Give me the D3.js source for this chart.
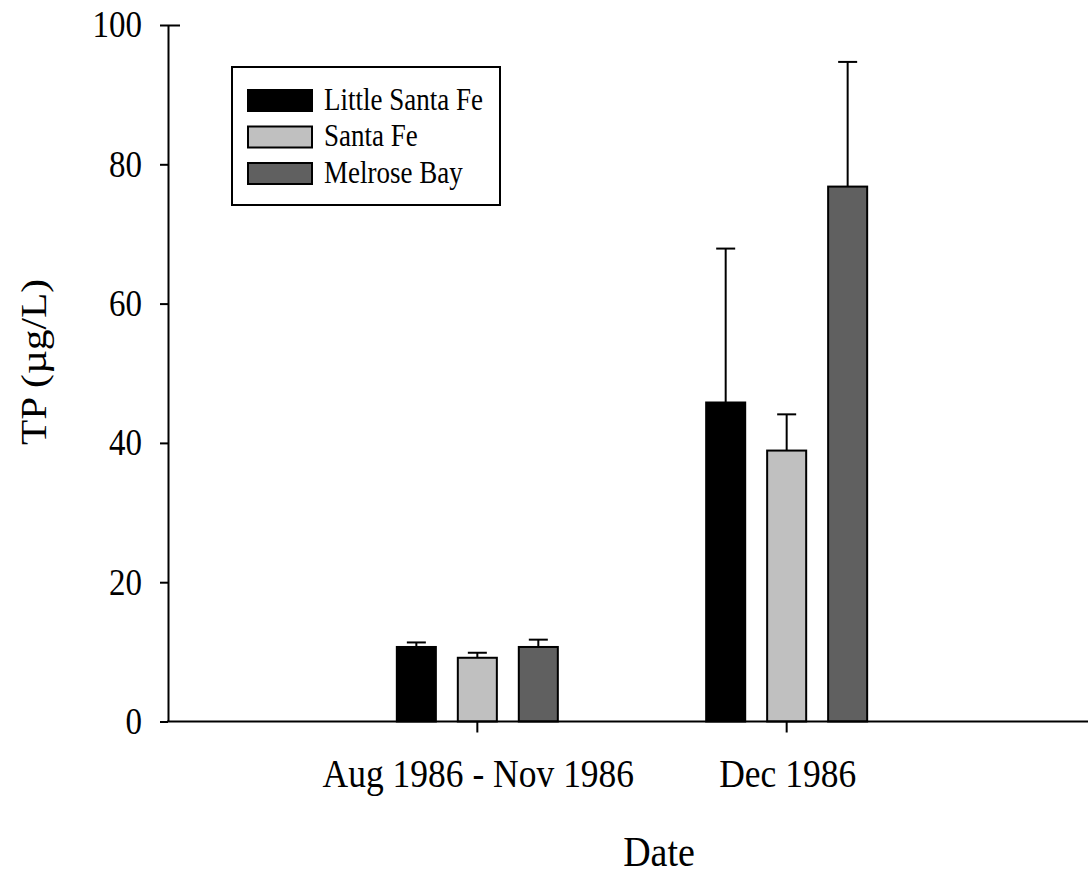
<!DOCTYPE html>
<html>
<head>
<meta charset="utf-8">
<script src="https://cdn.jsdelivr.net/npm/d3@7"></script>
<style>
html,body{margin:0;padding:0;background:#fff;}
svg{display:block;}
text{font-family:"Liberation Serif","Times New Roman",serif;fill:#000;}
</style>
</head>
<body>
<svg id="chart" width="1088" height="878"></svg>
<script>
// ---- data ----
const categories = ["Aug 1986 - Nov 1986", "Dec 1986"];
const seriesNames = ["Little Santa Fe", "Santa Fe", "Melrose Bay"];
const seriesColors = ["#000000", "#c0c0c0", "#606060"];
const littleSantaFe = [10.7, 45.8];
const littleSantaFeErr = [0.65, 22.1];
const santaFe = [9.15, 38.9];
const santaFeErr = [0.72, 5.2];
const melroseBay = [10.7, 76.8];
const melroseBayErr = [1.05, 17.9];
const yTicks = [0, 20, 40, 60, 80, 100];
const xTitle = "Date";
const yTitle = "TP (\u00b5g/L)";

const values = [littleSantaFe, santaFe, melroseBay];
const errors = [littleSantaFeErr, santaFeErr, melroseBayErr];
const table = [];
seriesNames.forEach((s, si) => categories.forEach((c, ci) => {
  table.push({series: s, cat: c, value: values[si][ci], err: errors[si][ci], color: seriesColors[si]});
}));

const svg = d3.select("#chart");
const SY = 1.15; // vertical text stretch

const y = d3.scaleLinear().domain([0, 100]).range([721.5, 25]);
const x0 = d3.scaleBand().domain(categories).range([168, 1096]).paddingInner(0).paddingOuter(0.5);
const x1 = d3.scaleBand().domain(seriesNames).range([-80.5, 80.5]).paddingInner(0.36).paddingOuter(0);

function stretchedText(g, txt, x, yy, size, anchor, rot, sy) {
  const s = sy || SY;
  return g.append("text")
    .attr("transform", `translate(${x},${yy}) scale(1,${s})` + (rot ? ` rotate(${rot})` : ""))
    .attr("text-anchor", anchor)
    .style("font-size", size + "px")
    .text(txt);
}

// bars
const barG = svg.append("g");
barG.selectAll("rect.bar").data(table).join("rect")
  .attr("class", "bar")
  .attr("x", d => x0(d.cat) + x0.bandwidth() / 2 + x1(d.series))
  .attr("width", x1.bandwidth())
  .attr("y", d => y(d.value))
  .attr("height", d => y(0) - y(d.value))
  .attr("fill", d => d.color)
  .attr("stroke", "#000")
  .attr("stroke-width", 2);

// error bars (upper)
const errG = svg.append("g").attr("stroke", "#000").attr("stroke-width", 2);
table.forEach(d => {
  const cx = x0(d.cat) + x0.bandwidth() / 2 + x1(d.series) + x1.bandwidth() / 2;
  errG.append("line").attr("x1", cx).attr("x2", cx).attr("y1", y(d.value)).attr("y2", y(d.value + d.err));
  errG.append("line").attr("x1", cx - 9.5).attr("x2", cx + 9.5).attr("y1", y(d.value + d.err)).attr("y2", y(d.value + d.err));
});

// y axis
const yAxisG = svg.append("g").attr("transform", "translate(168,0)")
  .call(d3.axisLeft(y).tickValues(yTicks).tickSize(8).tickSizeOuter(0).tickFormat(""));
yAxisG.select(".domain").attr("stroke", "#000").attr("stroke-width", 2);
yAxisG.selectAll(".tick line").attr("stroke", "#000").attr("stroke-width", 2);
yAxisG.selectAll(".tick").filter(d => d === 100).select("line").attr("x2", 12).attr("x1", -8);
yTicks.forEach(t => stretchedText(svg, String(t), 142, y(t) + 12.3, 33, "end"));

// x axis
const xAxisG = svg.append("g").attr("transform", `translate(0,${y(0)})`);
xAxisG.append("line").attr("x1", 167).attr("x2", 1088).attr("y1", 0).attr("y2", 0)
  .attr("stroke", "#000").attr("stroke-width", 2);
xAxisG.call(d3.axisBottom(x0).tickSize(11).tickSizeOuter(0).tickFormat(""));
xAxisG.select(".domain").remove();
xAxisG.selectAll(".tick line").attr("stroke", "#000").attr("stroke-width", 2);
categories.forEach(c => stretchedText(svg, c, x0(c) + x0.bandwidth() / 2 + 1, 787, 35.5, "middle"));

// titles
stretchedText(svg, xTitle, 659, 866, 38, "middle", null, 1.1);
stretchedText(svg, yTitle, 46, 362, 36, "middle", -90);

// legend
const lg = svg.append("g");
lg.append("rect").attr("x", 232).attr("y", 67).attr("width", 268).attr("height", 138)
  .attr("fill", "#fff").attr("stroke", "#000").attr("stroke-width", 2);
seriesNames.forEach((s, i) => {
  const ty = 90 + i * 36.5;
  lg.append("rect").attr("x", 248).attr("y", ty).attr("width", 64).attr("height", 21)
    .attr("fill", seriesColors[i]).attr("stroke", "#000").attr("stroke-width", 2);
  stretchedText(lg, s, 324, ty + 19.5, 27, "start");
});
</script>
</body>
</html>
